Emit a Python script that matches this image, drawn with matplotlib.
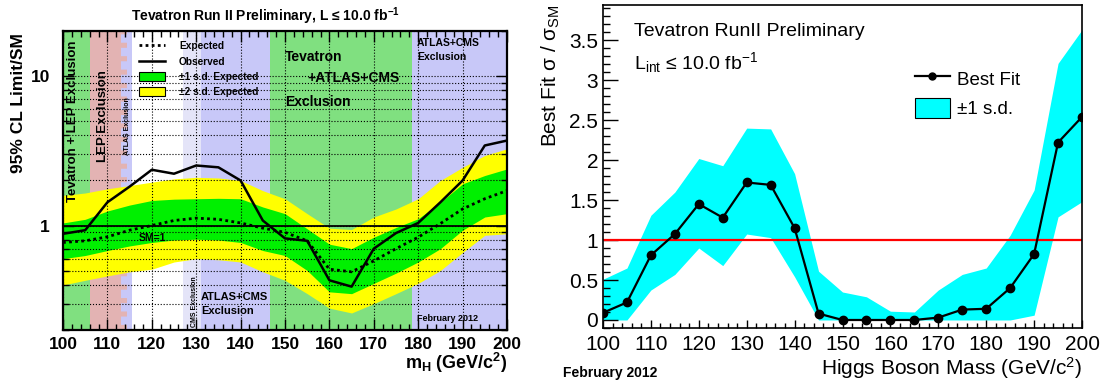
import numpy as np
import matplotlib.pyplot as plt
from matplotlib.patches import Patch
from matplotlib.lines import Line2D
from matplotlib.ticker import MultipleLocator, FixedLocator, NullFormatter, FixedFormatter

plt.rcParams['font.family'] = ['Liberation Sans', 'DejaVu Sans']
plt.rcParams['mathtext.fontset'] = 'custom'
plt.rcParams['mathtext.rm'] = 'Liberation Sans'
plt.rcParams['mathtext.it'] = 'Liberation Sans:italic'
plt.rcParams['mathtext.bf'] = 'Liberation Sans:bold'
plt.rcParams['mathtext.default'] = 'regular'

# ---- data ----
mass = [100, 105, 110, 115, 120, 125, 130, 135, 140, 145, 150,
        155, 160, 165, 170, 175, 180, 185, 190, 195, 200]

# left panel: 95% CL limit / SM
observed = [0.88, 0.93, 1.43, 1.82, 2.36, 2.22, 2.52, 2.45, 2.00, 1.08, 0.82,
            0.79, 0.43, 0.39, 0.70, 0.89, 1.04, 1.43, 2.00, 3.43, 3.70]
expected = [0.77, 0.79, 0.84, 0.93, 1.00, 1.08, 1.12, 1.10, 1.04, 0.96, 0.90,
            0.79, 0.51, 0.49, 0.58, 0.70, 0.835, 1.03, 1.29, 1.51, 1.71]
exp_p1 = [1.04, 1.10, 1.25, 1.37, 1.47, 1.50, 1.51, 1.52, 1.51, 1.33, 1.20,
          0.95, 0.75, 0.70, 0.835, 0.97, 1.11, 1.43, 1.90, 2.16, 2.39]
exp_m1 = [0.60, 0.63, 0.68, 0.73, 0.77, 0.80, 0.81, 0.80, 0.77, 0.68, 0.63,
          0.50, 0.36, 0.35, 0.41, 0.48, 0.57, 0.70, 0.93, 1.14, 1.20]
exp_p2 = [1.59, 1.65, 1.76, 1.85, 1.95, 2.05, 2.10, 2.08, 2.00, 1.71, 1.51,
          1.20, 0.96, 0.94, 1.14, 1.29, 1.51, 2.00, 2.45, 2.94, 3.26]
exp_m2 = [0.40, 0.43, 0.46, 0.49, 0.51, 0.57, 0.60, 0.59, 0.57, 0.49, 0.43,
          0.35, 0.28, 0.26, 0.30, 0.35, 0.41, 0.50, 0.66, 0.86, 0.88]

# excluded mass ranges (GeV) and their colours
excl_ranges = [(100, 106), (106, 113), (113, 115.5), (127, 131),
               (131, 146.6), (146.6, 178.5), (178.5, 200)]
excl_colors = ['#80e080', '#e3b3b3', '#c8c8f8', '#e4e4f8',
               '#c8c8f8', '#80e080', '#c8c8f8']

# right panel: best fit sigma / sigma_SM
best_fit = [0.09, 0.22, 0.81, 1.075, 1.45, 1.28, 1.72, 1.69, 1.15, 0.08, 0.0,
            0.0, 0.0, 0.0, 0.03, 0.13, 0.14, 0.40, 0.825, 2.22, 2.54]
fit_hi = [0.51, 0.65, 1.31, 1.60, 2.02, 1.93, 2.40, 2.39, 1.83, 0.61, 0.35,
          0.29, 0.11, 0.10, 0.375, 0.57, 0.65, 1.06, 1.625, 3.21, 3.63]
fit_lo = [0.0, 0.0, 0.375, 0.57, 0.90, 0.68, 1.075, 1.03, 0.54, 0.0, 0.0,
          0.0, 0.0, 0.0, 0.0, 0.0, 0.0, 0.0, 0.06, 1.29, 1.48]

fig = plt.figure(figsize=(11, 3.85), dpi=100)
W, H = 1100, 385


def px(x, y):
    return x / W, 1 - y / H


# ================= left panel =================
ax1 = fig.add_axes([63 / W, 1 - 330 / H, 444 / W, 299 / H])
ax1.set_yscale('log')
ax1.set_xlim(100, 200)
ax1.set_ylim(0.2, 20)

for (a, b), c in zip(excl_ranges, excl_colors):
    ax1.axvspan(a, b, color=c, lw=0, zorder=0)
# LEP hatch inside the ATLAS strip
ax1.axvline(113.7, color='#e3b3b3', lw=4.3, dashes=(0.85, 1.4), zorder=0.5)

ax1.fill_between(mass, exp_m2, exp_p2, color='#ffff00', lw=0, zorder=1)
ax1.fill_between(mass, exp_m1, exp_p1, color='#00f000', lw=0, zorder=1.1)

ax1.xaxis.set_major_locator(MultipleLocator(10))
ax1.xaxis.set_minor_locator(MultipleLocator(2))
ax1.yaxis.set_major_locator(FixedLocator([1, 10]))
ax1.yaxis.set_major_formatter(FixedFormatter(['1', '10']))
minors = [0.2, 0.3, 0.4, 0.5, 0.6, 0.7, 0.8, 0.9, 2, 3, 4, 5, 6, 7, 8, 9, 20]
ax1.yaxis.set_minor_locator(FixedLocator(minors))
ax1.yaxis.set_minor_formatter(NullFormatter())
ax1.grid(True, which='major', axis='x', color='black', ls=':', lw=0.8, zorder=1.5)
ax1.grid(True, which='both', axis='y', color='black', ls=':', lw=0.8, zorder=1.5)
ax1.set_axisbelow(False)

ax1.axhline(1, color='black', lw=1.3, zorder=2)
ax1.plot(mass, expected, color='black', lw=2, ls=(0, (1, 1.2)), zorder=3)
ax1.plot(mass, observed, color='black', lw=1.8, zorder=3)

ax1.tick_params(which='both', direction='in', top=True, right=True, width=1)
ax1.tick_params(which='major', length=8, labelsize=12.5)
ax1.tick_params(which='minor', length=4)
ax1.tick_params(axis='x', pad=5)
ax1.tick_params(axis='y', pad=9.5)
for lab in ax1.get_xticklabels() + ax1.get_yticklabels():
    lab.set_fontweight('bold')
for s in ax1.spines.values():
    s.set_linewidth(1.6)

bold = dict(fontweight='bold', color='black')
ax1.text(102.3, 5.0, 'Tevatron + LEP Exclusion', rotation=90, ha='center', va='center', fontsize=9.5, **bold)
ax1.text(109, 5.4, 'LEP Exclusion', rotation=90, ha='center', va='center', fontsize=9.5, **bold)
ax1.text(114.5, 4.6, 'ATLAS Exclusion', rotation=90, ha='center', va='center', fontsize=5, **bold)
ax1.text(129.6, 0.31, 'CMS Exclusion', rotation=90, ha='center', va='center', fontsize=5, **bold)
ax1.text(150, 13.3, 'Tevatron', ha='left', va='center', fontsize=10, **bold)
ax1.text(155, 9.7, '+ATLAS+CMS', ha='left', va='center', fontsize=10, **bold)
ax1.text(150, 6.7, 'Exclusion', ha='left', va='center', fontsize=10, **bold)
ax1.text(179.7, 16.7, 'ATLAS+CMS', ha='left', va='center', fontsize=7.5, **bold)
ax1.text(179.7, 13.3, 'Exclusion', ha='left', va='center', fontsize=7.5, **bold)
ax1.text(131.1, 0.335, 'ATLAS+CMS', ha='left', va='center', fontsize=8, **bold)
ax1.text(131.1, 0.266, 'Exclusion', ha='left', va='center', fontsize=8, **bold)
ax1.text(117.1, 0.83, 'SM=1', ha='left', va='center', fontsize=7.5, **bold)
ax1.text(179.8, 0.24, 'February 2012', ha='left', va='center', fontsize=6.5, **bold)

handles1 = [Line2D([], [], color='black', lw=2, ls=(0, (1, 1.2))),
            Line2D([], [], color='black', lw=1.8),
            Patch(facecolor='#00f000', edgecolor='black', lw=0.8),
            Patch(facecolor='#ffff00', edgecolor='black', lw=0.8)]
labels1 = ['Expected', 'Observed', '±1 s.d. Expected', '±2 s.d. Expected']
ax1.legend(handles1, labels1, loc='upper left', bbox_to_anchor=(0.172, 0.965),
           frameon=False, prop=dict(size=7.3, weight='bold'), handlelength=2.5,
           handleheight=1.0, handletextpad=1.4, labelspacing=0.52,
           borderpad=0, borderaxespad=0)

fig.text(*px(265, 16), 'Tevatron Run II Preliminary, L ≤ 10.0 fb$^{\\mathbf{-1}}$',
         ha='center', va='center', fontsize=10, fontweight='bold')
fig.text(*px(19, 103), '95% CL Limit/SM', rotation=90, ha='center', va='center',
         fontsize=12.5, fontweight='bold')
fig.text(*px(507, 363), r'$\mathbf{m_H}$ (GeV/c$^{\mathbf{2}}$)', ha='right', va='center',
         fontsize=13, fontweight='bold')

# ================= right panel =================
ax2 = fig.add_axes([603 / W, 1 - 328.3 / H, 479 / W, 323.3 / H])
ax2.set_xlim(100, 200)
ax2.set_ylim(-0.104, 3.94)

ax2.fill_between(mass, fit_lo, fit_hi, color='#00ffff', lw=0, zorder=1)
ax2.axhline(1, color='#ff0000', lw=1.6, zorder=2)
ax2.plot(mass, best_fit, color='black', lw=1.6, marker='o', ms=6, zorder=3)

ax2.xaxis.set_major_locator(MultipleLocator(10))
ax2.xaxis.set_minor_locator(MultipleLocator(2))
ax2.yaxis.set_major_locator(MultipleLocator(0.5))
ax2.yaxis.set_minor_locator(MultipleLocator(0.1))
ax2.yaxis.set_major_formatter(plt.FuncFormatter(lambda v, p: f'{v:g}'))
ax2.tick_params(which='both', direction='in', width=1, labelsize=15)
ax2.tick_params(axis='y', which='major', length=11, pad=3.5)
ax2.tick_params(axis='y', which='minor', length=5)
ax2.tick_params(axis='x', which='major', length=6, pad=5)
ax2.tick_params(axis='x', which='minor', length=3.5)
for s in ax2.spines.values():
    s.set_linewidth(1.2)

ax2.text(0.065, 3.61, 'Tevatron RunII Preliminary', transform=ax2.get_yaxis_transform(),
         ha='left', va='center', fontsize=14)
ax2.text(0.065, 3.22, 'L$_{int}$ ≤ 10.0 fb$^{-1}$', transform=ax2.get_yaxis_transform(),
         ha='left', va='center', fontsize=14)

handles2 = [Line2D([], [], color='black', lw=1.6, marker='o', ms=5),
            Patch(facecolor='#00ffff', edgecolor='black', lw=0.8)]
ax2.legend(handles2, ['Best Fit', '±1 s.d.'], loc='upper left',
           bbox_to_anchor=(0.651, 0.805), frameon=False, fontsize=13.5,
           handlelength=1.85, handleheight=1.3, handletextpad=0.4,
           labelspacing=0.5, borderpad=0, borderaxespad=0)

fig.text(*px(551, 76), r'Best Fit $\sigma$ / $\sigma_{SM}$', rotation=90,
         ha='center', va='center', fontsize=15)
fig.text(*px(1082, 368), r'Higgs Boson Mass (GeV/c$^{2}$)', ha='right', va='center',
         fontsize=15)
fig.text(*px(563, 373), 'February 2012', ha='left', va='center', fontsize=10,
         fontweight='bold')

fig.savefig('out.png', dpi=100)
